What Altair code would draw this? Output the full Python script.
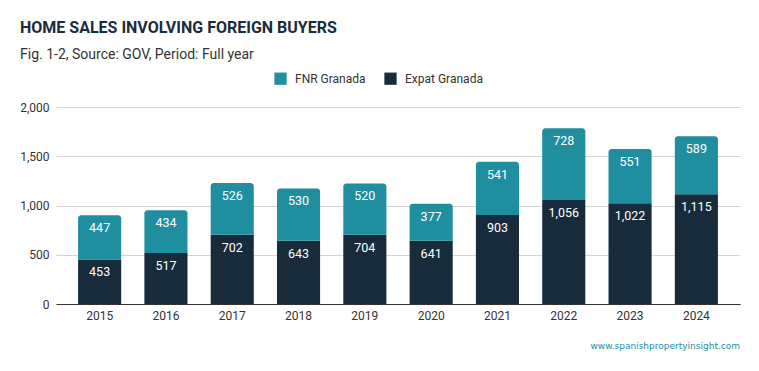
import altair as alt
import pandas as pd

years = ["2015", "2016", "2017", "2018", "2019", "2020", "2021", "2022", "2023", "2024"]
expat = [453, 517, 702, 643, 704, 641, 903, 1056, 1022, 1115]
fnr = [447, 434, 526, 530, 520, 377, 541, 728, 551, 589]
series = ["FNR Granada", "Expat Granada"]
colors = ["#1f8fa0", "#182b3a"]

df = pd.DataFrame({"year": years, "expat": expat, "fnr": fnr})
df["total"] = df["expat"] + df["fnr"]
df["s_expat"] = series[1]
df["s_fnr"] = series[0]

FONT = "Roboto"
W, H = 684, 197

base = alt.Chart(df)
xenc = alt.X("year:N", title=None, sort=years,
             scale=alt.Scale(paddingInner=0.35, paddingOuter=0.333),
             axis=alt.Axis(labelAngle=0, labelFontSize=12, labelColor="#333333",
                           labelPadding=6, ticks=False, domainColor="#333333",
                           domainWidth=1, grid=False))
yscale = alt.Scale(domain=[0, 2000])
yaxis = alt.Axis(values=[0, 500, 1000, 1500, 2000], format=",.0f", labelFontSize=12,
                 labelColor="#333333", labelPadding=7, ticks=False, domain=False,
                 gridColor="#d3d3d3", title=None)
cscale = alt.Scale(domain=series, range=colors)

expat_bar = base.mark_bar().encode(
    x=xenc,
    y=alt.Y("expat:Q", scale=yscale, axis=yaxis),
    y2=alt.Y2(datum=0),
    color=alt.Color("s_expat:N", scale=cscale, title=None,
                    legend=alt.Legend(orient="none", direction="horizontal",
                                      legendX=218, legendY=-35, symbolType="square",
                                      symbolSize=150, symbolStrokeWidth=0,
                                      labelFontSize=12, labelColor="#333333",
                                      columnPadding=18, labelOffset=8)),
)
fnr_bar = base.mark_bar(cornerRadiusTopLeft=3, cornerRadiusTopRight=3).encode(
    x=xenc,
    y=alt.Y("total:Q", scale=yscale),
    y2="expat:Q",
    color=alt.Color("s_fnr:N", scale=cscale),
)
expat_txt = base.mark_text(color="white", fontSize=12.5, baseline="middle", dy=13, font=FONT).encode(
    x=xenc, y=alt.Y("expat:Q", scale=yscale), text=alt.Text("expat:Q", format=",")
)
fnr_txt = base.mark_text(color="white", fontSize=12.5, baseline="middle", dy=13, font=FONT).encode(
    x=xenc, y=alt.Y("total:Q", scale=yscale), text=alt.Text("fnr:Q", format=",")
)
wm = alt.Chart(pd.DataFrame({"t": ["www.spanishpropertyinsight.com"]})).mark_text(
    align="right", baseline="middle", color="#2090a0", fontSize=9, font="DejaVu Sans"
).encode(x=alt.value(W), y=alt.value(H + 42), text="t:N")

chart = alt.layer(expat_bar, fnr_bar, expat_txt, fnr_txt, wm).properties(
    width=W, height=H,
    title=alt.TitleParams(
        "HOME SALES INVOLVING FOREIGN BUYERS",
        subtitle="Fig. 1-2, Source: GOV, Period: Full year",
        anchor="start", frame="group", dx=-36, offset=10,
        fontSize=16, fontWeight="bold", color="#1a2b3c", font=FONT,
        subtitleFontSize=14, subtitleColor="#333333", subtitleFont=FONT, subtitlePadding=12,
    ),
    autosize=alt.AutoSizeParams(type="none"),
    padding={"left": 48, "top": 99, "right": 11, "bottom": 50},
).configure(font=FONT).configure_view(stroke=None).configure_legend(labelFont=FONT).configure_axis(labelFont=FONT)

chart.save("out.html", embed_options={"renderer": "svg", "actions": False})
